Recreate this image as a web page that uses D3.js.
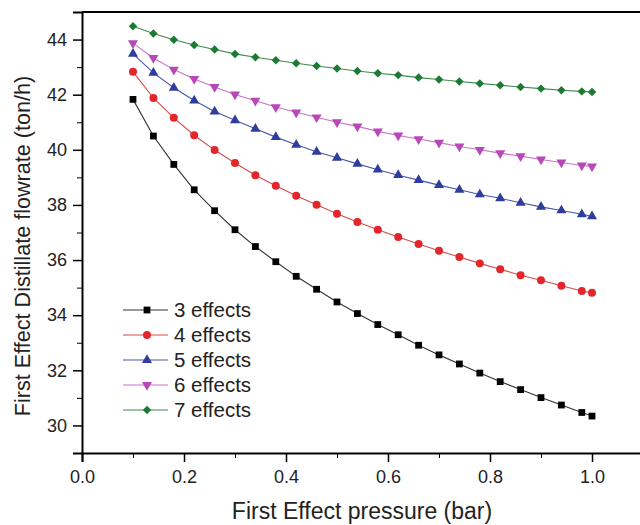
<!DOCTYPE html>
<html>
<head>
<meta charset="utf-8">
<script src="https://cdn.jsdelivr.net/npm/d3@7"></script>
<style>
  body { margin: 0; background: #fff; }
  svg { font-family: "Liberation Sans", Arial, sans-serif; }
  .axis path, .axis line { stroke: #000; }
  .axis text { font-size: 18px; fill: #222; }
</style>
</head>
<body>
<svg id="chart" width="640" height="525"></svg>
<script>
// pressure values (bar)
var pressure = [0.10, 0.14, 0.18, 0.22, 0.26, 0.30, 0.34, 0.38, 0.42, 0.46, 0.50, 0.54,
                0.58, 0.62, 0.66, 0.70, 0.74, 0.78, 0.82, 0.86, 0.90, 0.94, 0.98, 1.00];

var effects3 = [41.83, 40.50, 39.47, 38.55, 37.79, 37.10, 36.49, 35.94, 35.41, 34.94, 34.48, 34.06,
                33.66, 33.29, 32.91, 32.56, 32.23, 31.90, 31.59, 31.30, 31.01, 30.74, 30.47, 30.34];
var effects4 = [42.83, 41.88, 41.16, 40.53, 39.99, 39.52, 39.08, 38.70, 38.33, 38.01, 37.68, 37.38,
                37.10, 36.84, 36.58, 36.34, 36.11, 35.88, 35.67, 35.45, 35.27, 35.07, 34.88, 34.81];
var effects5 = [43.48, 42.79, 42.25, 41.79, 41.39, 41.07, 40.76, 40.46, 40.18, 39.93, 39.71, 39.49,
                39.28, 39.08, 38.90, 38.72, 38.55, 38.38, 38.24, 38.08, 37.93, 37.80, 37.66, 37.59];
var effects6 = [43.87, 43.33, 42.91, 42.57, 42.28, 42.01, 41.78, 41.55, 41.36, 41.18, 41.00, 40.85,
                40.67, 40.52, 40.39, 40.26, 40.12, 40.00, 39.88, 39.77, 39.65, 39.54, 39.43, 39.40];
var effects7 = [44.48, 44.22, 43.99, 43.80, 43.64, 43.48, 43.36, 43.25, 43.14, 43.04, 42.95, 42.86,
                42.78, 42.71, 42.62, 42.55, 42.48, 42.41, 42.34, 42.28, 42.22, 42.16, 42.12, 42.10];

var seriesNames = ["3 effects", "4 effects", "5 effects", "6 effects", "7 effects"];
var xTicks = [0.0, 0.2, 0.4, 0.6, 0.8, 1.0];
var yTicks = [30, 32, 34, 36, 38, 40, 42, 44];

var svg = d3.select("#chart"),
    margin = {top: 12, right: -3, bottom: 72, left: 82},
    width = +svg.attr("width") - margin.left - margin.right,
    height = +svg.attr("height") - margin.top - margin.bottom;

var x = d3.scaleLinear().domain([0, 1.1]).range([0, width]);
var y = d3.scaleLinear().domain([29, 45]).range([height, 0]);

var g = svg.append("g")
    .attr("transform", "translate(" + margin.left + "," + margin.top + ")");

// minor ticks
g.append("g")
    .attr("class", "axis")
    .attr("transform", "translate(0," + height + ")")
    .call(d3.axisBottom(x).tickValues(d3.range(0.1, 1.1, 0.2)).tickSize(5).tickFormat(""))
    .select(".domain").remove();
g.append("g")
    .attr("class", "axis")
    .call(d3.axisLeft(y).tickValues(d3.range(29, 45, 2)).tickSize(5).tickFormat(""))
    .select(".domain").remove();

var xAxis = g.append("g")
    .attr("class", "axis")
    .attr("transform", "translate(0," + height + ")")
    .call(d3.axisBottom(x).tickValues(xTicks).tickSize(9).tickPadding(8).tickFormat(d3.format(".1f")));
xAxis.selectAll("line").attr("stroke-width", 1.5);
xAxis.select(".domain").attr("stroke-width", 2);

var yAxis = g.append("g")
    .attr("class", "axis")
    .call(d3.axisLeft(y).tickValues(yTicks).tickSize(9).tickPadding(6));
yAxis.selectAll("line").attr("stroke-width", 1.5);
yAxis.select(".domain").attr("stroke-width", 2);

// top frame
g.append("line")
    .attr("x1", 0).attr("x2", width)
    .attr("y1", 0).attr("y2", 0)
    .attr("stroke", "#000").attr("stroke-width", 2);

var series = [
  {name: seriesNames[0], values: effects3, color: "#000000", line: "#333333", symbol: d3.symbolSquare, size: 46, rot: 0},
  {name: seriesNames[1], values: effects4, color: "#e3262b", line: "#d44a4a", symbol: d3.symbolCircle, size: 50, rot: 0},
  {name: seriesNames[2], values: effects5, color: "#2e3d9e", line: "#4a56a8", symbol: d3.symbolTriangle, size: 44, rot: 0},
  {name: seriesNames[3], values: effects6, color: "#b847b8", line: "#c873c8", symbol: d3.symbolTriangle, size: 44, rot: 180},
  {name: seriesNames[4], values: effects7, color: "#1c7a32", line: "#3c8a4c", symbol: d3.symbolSquare, size: 36, rot: 45}
];

var line = d3.line()
    .x(function(d, i) { return x(pressure[i]); })
    .y(function(d) { return y(d); });

series.forEach(function(s) {
  g.append("path")
      .datum(s.values)
      .attr("fill", "none")
      .attr("stroke", s.line)
      .attr("stroke-width", 1.1)
      .attr("d", line);

  g.selectAll(".pt-" + s.name.charAt(0))
      .data(s.values)
    .enter().append("path")
      .attr("d", d3.symbol().type(s.symbol).size(s.size))
      .attr("transform", function(d, i) {
        return "translate(" + x(pressure[i]) + "," + y(d) + ") rotate(" + s.rot + ")";
      })
      .attr("fill", s.color);
});

// legend
var legend = svg.append("g").attr("transform", "translate(123,310)");
series.forEach(function(s, i) {
  var row = legend.append("g").attr("transform", "translate(0," + (i * 25) + ")");
  row.append("line")
      .attr("x1", 0).attr("x2", 45)
      .attr("stroke", s.line).attr("stroke-width", 1.1);
  row.append("path")
      .attr("d", d3.symbol().type(s.symbol).size(s.size))
      .attr("transform", "translate(24,0) rotate(" + s.rot + ")")
      .attr("fill", s.color);
  row.append("text")
      .attr("x", 51)
      .attr("dy", "0.35em")
      .attr("font-size", "20.5px")
      .attr("fill", "#222")
      .text(s.name);
});

// axis titles
svg.append("text")
    .attr("x", 362)
    .attr("y", 519)
    .attr("text-anchor", "middle")
    .attr("font-size", "23px")
    .attr("fill", "#222")
    .text("First Effect pressure (bar)");

svg.append("text")
    .attr("transform", "translate(30,246) rotate(-90)")
    .attr("text-anchor", "middle")
    .attr("font-size", "21.6px")
    .attr("fill", "#222")
    .text("First Effect Distillate flowrate (ton/h)");
</script>
</body>
</html>
